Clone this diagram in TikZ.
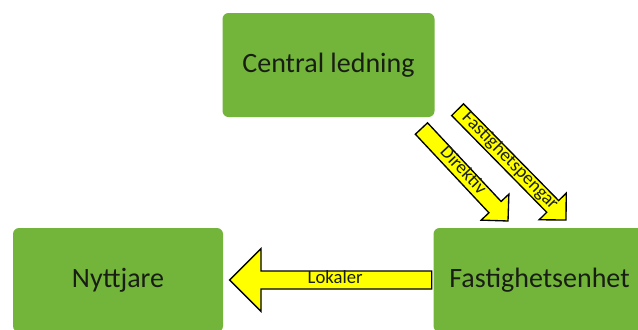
\documentclass[tikz,border=0pt]{standalone}
\usepackage{fontspec}
\setmainfont{Carlito}
\usetikzlibrary{shapes.arrows}
\definecolor{boxgreen}{RGB}{114,181,58}
\definecolor{flowyellow}{RGB}{255,255,0}
\definecolor{labeldark}{RGB}{25,30,20}
\begin{document}
\begin{tikzpicture}[x=0.75pt,y=-0.75pt,inner sep=0pt,outer sep=0pt,
unitbox/.style={fill=boxgreen,rounded corners=4.5pt,minimum width=159pt,minimum height=78pt,text=labeldark,font=\fontsize{21}{25}\selectfont},
flowarrow/.style={single arrow,draw=black,line width=1pt,fill=flowyellow,text=labeldark,font=\fontsize{14}{16}\selectfont,text height=7pt,text depth=2pt,single arrow head extend=6.4pt,minimum width=28.5pt}]
\useasboundingbox (0,0) rectangle (638,329);
\draw (328.5,65) node[unitbox] (Central) {Central ledning};
\draw (118,280) node[unitbox,minimum width=157.5pt] (Nyttjare) {Nyttjare};
\draw (539.5,280) node[unitbox] (Fastighet) {Fastighetsenhet};
% tips of the block arrows
\coordinate (LokTip) at ([xshift=5pt]Nyttjare.east);
\coordinate (DirTip) at (508,221);
\coordinate (PengTip) at (566,220);
\node[flowarrow,shape border rotate=180,minimum width=47pt,single arrow head extend=12.4pt,minimum height=151.5pt,anchor=tip] (Lokaler) at (LokTip) {Lokaler};
\node[flowarrow,rotate=-46.9,minimum height=95pt,anchor=tip] (Direktiv) at (DirTip) {Direktiv};
\node[flowarrow,rotate=-45.5,minimum height=116pt,anchor=tip] (Pengar) at (PengTip) {Fastighetspengar};
\end{tikzpicture}
\end{document}
